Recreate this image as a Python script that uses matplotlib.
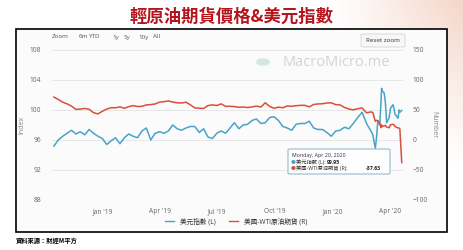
import matplotlib
matplotlib.use("Agg")
import matplotlib.pyplot as plt
from matplotlib.patches import Rectangle, Circle, FancyBboxPatch
from matplotlib.lines import Line2D
import numpy as np
import pandas as pd

plt.rcParams['font.family'] = ['Open Sans', 'Noto Sans CJK TC', 'DejaVu Sans']

W, H = 464, 250

# weekly part (Mondays), then denser points for Mar-Apr 2020
weekly_dates = pd.date_range('2018-10-15', '2020-02-24', freq='W-MON')
daily_dates = pd.to_datetime([
    '2020-03-02', '2020-03-05', '2020-03-09', '2020-03-11', '2020-03-13',
    '2020-03-16', '2020-03-18', '2020-03-19', '2020-03-20', '2020-03-23',
    '2020-03-25', '2020-03-27', '2020-03-31', '2020-04-02', '2020-04-06',
    '2020-04-08', '2020-04-09', '2020-04-14', '2020-04-16', '2020-04-17',
    '2020-04-20'])
dates = weekly_dates.append(daily_dates)

usd_index = [
    95.2, 96.0, 96.5, 96.9, 97.3, 96.8, 97.1, 96.7, 97.4, 96.9, 96.5, 96.2,
    95.4, 95.9, 96.3, 95.5, 96.3, 96.8, 96.5, 96.3, 97.2, 97.6, 96.0, 96.9,
    97.1, 96.9, 97.2, 98.0, 97.5, 97.3, 97.6, 97.8, 97.8, 97.0, 97.5, 96.4,
    96.2, 96.9, 97.2, 96.9, 97.6, 98.3, 97.5, 98.0, 98.1, 98.6, 98.8, 98.2,
    98.3, 99.0, 99.1, 98.6, 97.8, 97.6, 97.3, 98.1, 98.2, 98.2, 98.5, 97.6,
    97.4, 97.4, 97.0, 96.5, 97.2, 97.3, 97.7, 97.5, 98.2, 99.0, 99.7, 98.2,
    97.2, 96.7, 94.9, 96.4, 98.6, 98.0, 101.0, 102.9, 102.5, 102.3, 101.0,
    98.3, 99.0, 100.2, 100.7, 100.1, 99.5, 98.9, 100.0, 99.7, 99.95]

wti = [
    71.5, 67.6, 63.1, 60.2, 56.5, 51.0, 51.5, 52.6, 51.2, 45.6, 43.5, 47.9,
    51.6, 53.8, 53.7, 55.3, 52.7, 55.6, 57.3, 55.8, 56.1, 58.5, 59.0, 60.1,
    63.1, 63.9, 65.0, 63.3, 61.9, 61.7, 63.0, 58.6, 53.5, 53.0, 52.5, 57.4,
    58.5, 57.5, 60.2, 56.0, 56.2, 55.7, 54.5, 54.9, 54.2, 55.1, 56.5, 54.9,
    62.0, 56.0, 52.8, 54.7, 53.8, 56.7, 56.2, 57.2, 57.7, 57.8, 55.2, 59.2,
    60.1, 60.4, 61.7, 62.0, 59.0, 58.5, 54.2, 51.6, 50.3, 52.1, 53.4, 45.3,
    46.8, 45.9, 31.1, 32.9, 31.7, 28.7, 20.4, 25.2, 22.4, 23.4, 24.5,
    21.5, 20.5, 25.3, 26.1, 25.1, 22.8, 20.1, 19.9, 18.3, -37.63]

left_ticks = [88, 92, 96, 100, 104, 108]
right_ticks = [-100, -50, 0, 50, 100, 150]
x_ticks = ['2019-01-01', '2019-04-01', '2019-07-01', '2019-10-01', '2020-01-01', '2020-04-01']
x_labels = ["Jan '19", "Apr '19", "Jul '19", "Oct '19", "Jan '20", "Apr '20"]

blue = '#4aa3c8'
red = '#d6503b'
gray = '#666666'


def px(x, y):
    return x / W, 1 - y / H


fig = plt.figure(figsize=(W / 100, H / 100), dpi=100)

# peach background at top right
bg = fig.add_axes([0, 0, 1, 1], zorder=-10)
gx, gy = np.meshgrid(np.linspace(0, 1, 200), np.linspace(1, 0, 100))
wgt = np.clip((gx - 0.72) / 0.28, 0, 1) * np.clip((gy - 0.35) / 0.65, 0, 1)
peach = np.array([0.96, 0.84, 0.79])
img = 1 - wgt[..., None] * (1 - peach)
bg.imshow(img, extent=[0, 1, 0, 1], aspect='auto')
bg.axis('off')

# chart box
fig.patches.append(Rectangle(px(16, 232), 431 / W, 203 / H, transform=fig.transFigure,
                             facecolor='#fbfbfb', edgecolor='black', lw=1.2, zorder=-5))

l, b = px(52, 200)
ax = fig.add_axes([l, b, 351 / W, 150 / H])
ax.set_facecolor('none')
ax2 = ax.twinx()

ax.plot(dates, usd_index, color=blue, lw=1.1, zorder=3)
ax2.plot(dates, wti, color=red, lw=1.1, zorder=2)

ax.set_ylim(88, 108)
ax2.set_ylim(-100, 150)
ax.set_yticks(left_ticks)
ax2.set_yticks(right_ticks)
ax.set_xlim(pd.Timestamp('2018-10-12'), pd.Timestamp('2020-04-22'))
ax.set_xticks(pd.to_datetime(x_ticks))
ax.set_xticklabels(x_labels)
ax.grid(axis='y', color='#e4e4e4', lw=0.6)
ax.set_axisbelow(True)

for a in (ax, ax2):
    for s in a.spines.values():
        s.set_visible(False)
    a.tick_params(length=0, labelsize=4.8, labelcolor=gray)
ax.tick_params(axis='y', pad=8)
ax2.tick_params(axis='y', pad=7)
ax.tick_params(axis='x', pad=6)
ax.axhline(88, color='#ccd6eb', lw=0.8)

ax.set_ylabel('Index', fontsize=5, color='#888888', labelpad=3)
ax2.set_ylabel('Number', fontsize=5, color='#888888', rotation=270, labelpad=7)

# title
fig.text(*px(232, 17), '輕原油期貨價格&美元指數', ha='center', va='center',
         fontsize=12.5, fontweight='bold', color='#b5141c',
         family=['Noto Sans CJK TC', 'DejaVu Sans'])

# range selector
for lab, xx in [('Zoom', 52), ('6m', 79), ('YTD', 89), ('1y', 112), ('5y', 124), ('10y', 138), ('All', 153)]:
    fig.text(*px(xx, 37), lab, fontsize=4.5, color='#555555', va='center')

# reset zoom button
fig.patches.append(FancyBboxPatch(px(361, 47), 44 / W, 13 / H, transform=fig.transFigure,
                                  boxstyle='round,pad=0,rounding_size=0.005',
                                  facecolor='#f7f7f7', edgecolor='#cccccc', lw=0.5))
fig.text(*px(383, 40.5), 'Reset zoom', fontsize=4.5, color='#333333', ha='center', va='center')

# watermark
fig.patches.append(Circle(px(263, 62), 7 / W, transform=fig.transFigure,
                          facecolor='#d3e8e4', edgecolor='none'))
fig.text(*px(283, 62), 'MacroMicro.me', fontsize=10.5, color='#d4d4d4', va='center')

# tooltip
fig.patches.append(FancyBboxPatch(px(288, 174), 102 / W, 25 / H, transform=fig.transFigure,
                                  boxstyle='round,pad=0,rounding_size=0.004',
                                  facecolor='white', edgecolor='#8fb8c6', lw=0.8, alpha=0.95))
fig.text(*px(292, 155), 'Monday, Apr 20, 2020', fontsize=3.8, color='#333333', va='center')
fig.text(*px(291, 162), '●', fontsize=3.5, color=blue, va='center')
fig.text(*px(296, 162), '美元指數 (L):', fontsize=3.8, color='#333333', va='center')
fig.text(*px(327, 162), '99.95', fontsize=3.8, color='#222222', fontweight='bold', va='center')
fig.text(*px(291, 168.5), '●', fontsize=3.5, color=red, va='center')
fig.text(*px(296, 168.5), '美國-WTI原油期貨 (R):', fontsize=3.8, color='#333333', va='center')
fig.text(*px(366, 168.5), '-37.63', fontsize=3.8, color='#222222', fontweight='bold', va='center')

# legend
handles = [Line2D([], [], color=blue, lw=1.0), Line2D([], [], color=red, lw=1.0)]
fig.legend(handles, ['美元指數 (L)', '美國-WTI原油期貨 (R)'], loc='center',
           bbox_to_anchor=px(236, 222), ncol=2, frameon=False, fontsize=4.8,
           handlelength=1.4, columnspacing=2.0, labelcolor='#333333')

# source
fig.text(*px(16, 240), '資料來源：財經M平方', fontsize=4.5, fontweight='bold',
         color='black', va='center', family=['Noto Sans CJK TC', 'DejaVu Sans'])

fig.savefig('out.png', dpi=100)
